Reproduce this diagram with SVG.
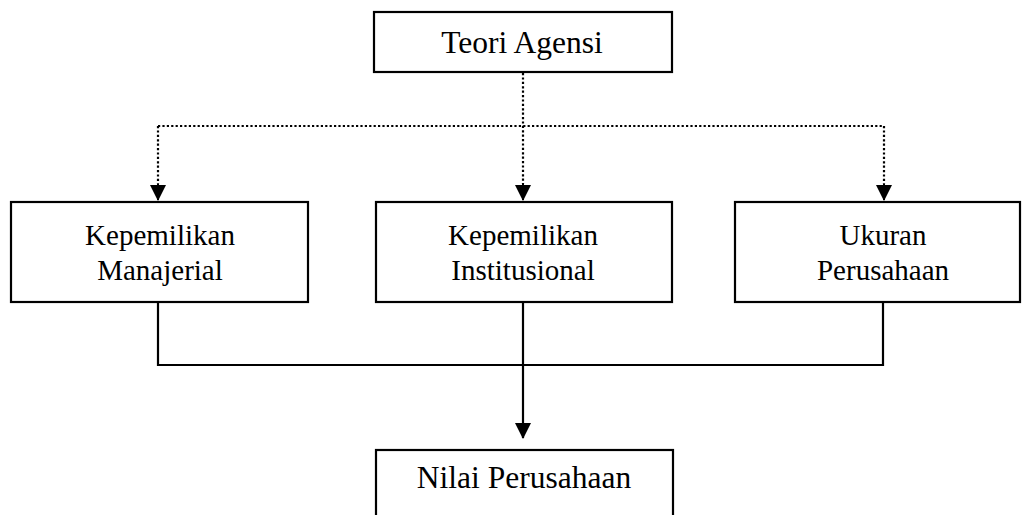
<svg xmlns="http://www.w3.org/2000/svg" width="1024" height="515" viewBox="0 0 1024 515">
<style>
.box{fill:#fff;stroke:#000;stroke-width:2.2}
.t{font-family:"Liberation Serif","Times New Roman",serif;fill:#000;text-anchor:middle}
.s29{font-size:29px}
.s31{font-size:31.5px}
.dot{fill:none;stroke:#000;stroke-width:2.2;stroke-dasharray:2.2 2.2}
.solid{fill:none;stroke:#000;stroke-width:2.2}
</style>
<defs>
<marker id="ah" markerWidth="16" markerHeight="16" viewBox="0 0 16 16" refX="15" refY="8" orient="auto" markerUnits="userSpaceOnUse">
<path d="M0,0 L16,8 L0,16 Z" fill="#000"/>
</marker>
</defs>
<g id="connectors">
<path class="dot" d="M523,73 V184"/>
<path class="dot" d="M158,126 H884"/>
<path class="dot" d="M158,126 V184"/>
<path class="dot" d="M884,126 V184"/>
<path d="M523,184 V200" stroke="#000" stroke-width="2" marker-end="url(#ah)"/>
<path d="M158,184 V200" stroke="#000" stroke-width="2" marker-end="url(#ah)"/>
<path d="M884,184 V200" stroke="#000" stroke-width="2" marker-end="url(#ah)"/>
<path class="solid" d="M158,302 V365 H883 V302"/>
<path class="solid" d="M523,302 V438" marker-end="url(#ah)"/>
</g>
<g id="teori">
<rect class="box" x="374" y="12" width="298" height="60"/>
<text class="t s31" x="522" y="53">Teori Agensi</text>
</g>
<g id="manajerial">
<rect class="box" x="11" y="202" width="297" height="100"/>
<text class="t s29" x="160" y="245">Kepemilikan</text>
<text class="t s29" x="160" y="280">Manajerial</text>
</g>
<g id="institusional">
<rect class="box" x="376" y="202" width="296" height="100"/>
<text class="t s29" x="523" y="245">Kepemilikan</text>
<text class="t s29" x="523" y="280">Institusional</text>
</g>
<g id="ukuran">
<rect class="box" x="735" y="202" width="285" height="100"/>
<text class="t s29" x="883" y="245">Ukuran</text>
<text class="t s29" x="883" y="280">Perusahaan</text>
</g>
<g id="nilai">
<rect class="box" x="376" y="450" width="297" height="80"/>
<text class="t s31" x="524" y="488">Nilai Perusahaan</text>
</g>
</svg>
